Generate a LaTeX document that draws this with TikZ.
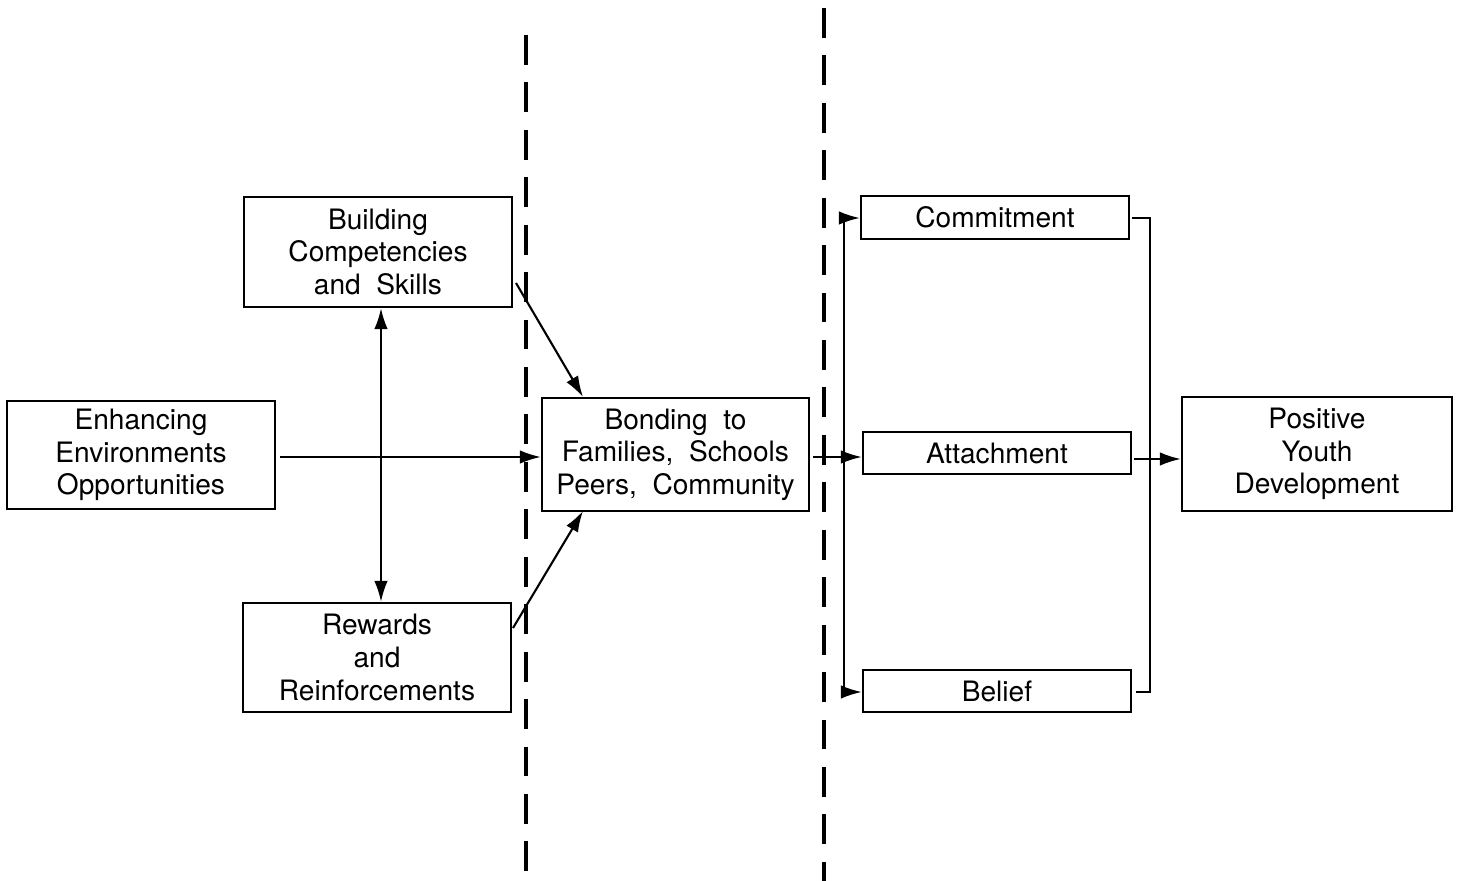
\documentclass[tikz,border=0pt]{standalone}
\usepackage{fontspec}
\setmainfont{TeX Gyre Heros}
\usetikzlibrary{arrows.meta}
\begin{document}
\begin{tikzpicture}[x=0.02cm,y=-0.02cm,
  box/.style={draw,line width=1.3pt,align=center,inner sep=0pt,
    font=\fontsize{16}{18.6}\selectfont},
  arr/.style={line width=1.2pt,-{Latex[length=4.2mm,width=2.7mm]}},
  darr/.style={line width=1.2pt,{Latex[length=4.2mm,width=2.7mm]}-{Latex[length=4.2mm,width=2.7mm]}},
  ln/.style={line width=1.2pt},
  divider/.style={line width=1.8pt,dash pattern=on 17pt off 10pt}]
\path[fill=white,use as bounding box] (0,0) rectangle (1461,881);
% boxes
\node[box,minimum width=5.36cm,minimum height=2.16cm] (enh) at (141,455) {Enhancing\\Environments\\Opportunities};
\node[box,minimum width=5.36cm,minimum height=2.2cm] (build) at (378,252) {Building\\Competencies\\and\ \ Skills};
\node[box,minimum width=5.36cm,minimum height=2.18cm] (rew) at (377,657.5) {Rewards\\and\\Reinforcements};
\node[box,minimum width=5.34cm,minimum height=2.26cm] (bond) at (675.5,454.5) {Bonding\ \ to\\Families,\ \ Schools\\Peers,\ \ Community};
\node[box,minimum width=5.36cm,minimum height=0.86cm] (comm) at (995,217.5) {Commitment};
\node[box,minimum width=5.36cm,minimum height=0.84cm] (att) at (997,453) {Attachment};
\node[box,minimum width=5.36cm,minimum height=0.84cm] (bel) at (997,691) {Belief};
\node[box,minimum width=5.4cm,minimum height=2.28cm] (pos) at (1317,454) {Positive\\Youth\\Development};
% dividers
\coordinate (d1t) at (526,35); \coordinate (d1b) at (526,881);
\coordinate (d2t) at (824,8); \coordinate (d2b) at (824,881);
\draw[divider] (d1t) -- (d1b);
\draw[divider] (d2t) -- (d2b);
% left connectors
\coordinate (e1) at (280,457);
\draw[arr] (e1) -- (bond.west |- e1);
\coordinate (v1) at (381,0);
\draw[darr] (build.south -| v1) -- (rew.north -| v1);
\coordinate (b1) at (516,283); \coordinate (b2) at (583,397);
\draw[arr] (b1) -- (b2);
\coordinate (r1) at (513,628); \coordinate (r2) at (583,511);
\draw[arr] (r1) -- (r2);
% middle bus
\coordinate (m0) at (813,457);
\coordinate (mt) at (844,218); \coordinate (mb) at (844,692);
\draw[arr] (m0) -- (att.west |- m0);
\draw[ln] (mt) -- (mb);
\draw[arr] (mt) -- (comm.west |- mt);
\draw[arr] (mb) -- (bel.west |- mb);
% right bus
\coordinate (rt) at (1150,218); \coordinate (rb) at (1150,692);
\coordinate (ct) at (1132,218); \coordinate (cb) at (1136,692);
\draw[ln] (ct) -- (rt) -- (rb) -- (cb);
\coordinate (a0) at (1134,459);
\draw[arr] (a0) -- (pos.west |- a0);
\end{tikzpicture}
\end{document}
